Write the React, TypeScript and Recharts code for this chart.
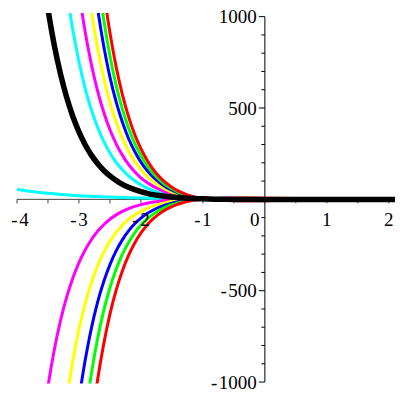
import React from "react";
import { LineChart, Line, XAxis, YAxis, ReferenceLine, ReferenceDot } from "recharts";

// x grid shared by every curve
const xs = [
  -4, -3.9, -3.8, -3.7, -3.6, -3.5, -3.4, -3.3, -3.2, -3.1, -3, -2.9, -2.8, -2.7, -2.6, -2.5,
  -2.4, -2.3, -2.2, -2.1, -2, -1.9, -1.8, -1.7, -1.6, -1.5, -1.4, -1.3, -1.2, -1.1, -1,
  -0.8, -0.6, -0.4, -0.2, 0, 0.5, 1, 1.5, 2.1,
];

const n = (k: number) => Array(k).fill(null);

// upper family (the view clips them at the top)
const blackUp = [...n(3), 1566, 1277, 1040, 846, 689, 560, 455, 369, 299, 242, 196, 158, 128, 103, 82, 66, 53, 42, 33, 26, 20.6, 16, 12.4, 9.5, 7.2, 5.3, 3.9, 2.7, 1.1, 0.2, -0.3, -0.6, -0.7, -0.7, -0.5, -0.3, -0.2];
const cyanUp = [...n(7), 1416, 1148, 930, 753, 608, 490, 395, 317, 254, 203, 162, 129, 102, 80, 62, 48, 37, 28, 21, 15.4, 11, 7.5, 4.8, 2.7, -0.1, -1.6, -2.4, -2.6, -2.6, -2.1, -1.5, -0.95, -0.55];
const magentaUp = [...n(9), 1406, 1136, 917, 739, 594, 477, 381, 304, 242, 191, 151, 118, 92, 71, 54, 40, 30, 21, 15, 9.7, 5.8, 2.7, -0.8, -2, -2.6, -2.8, -2.7, -2.1, -1.4, -1, -0.5];
const yellowUp = [...n(11), 1282, 1032, 829, 665, 531, 423, 336, 265, 208, 163, 126, 97, 73, 55, 40, 28.5, 19.4, 12.3, 6.9, 2.7, -1.6, -3.3, -4, -4.2, -4, -3.1, -2.1, -1.4, -0.8];
const blueUp = [...n(11), 1619, 1303, 1047, 838, 669, 533, 423, 333, 262, 204, 158, 121, 92, 68, 50, 35, 23.6, 14.7, 7.9, 2.7, -2.4, -4.5, -5.3, -5.5, -5.3, -4, -2.8, -1.8, -1];
const greenUp = [...n(12), 1529, 1228, 983, 785, 624, 495, 390, 306, 239, 185, 141, 107, 79, 58, 40, 27, 16.7, 8.8, 2.7, -3.1, -5.5, -6.5, -6.6, -6.3, -4.8, -3.2, -2.1, -1.2];
const redUp = [...n(12), 1777, 1427, 1142, 912, 725, 575, 453, 355, 277, 214, 163, 123, 91, 66, 46, 31, 18.9, 9.7, 2.7, -3.8, -6.5, -7.7, -7.8, -7.4, -5.6, -3.8, -2.5, -1.4];

// lower family
const magentaLo = [...n(4), -1265, -1024, -827, -667, -537, -432, -346, -277, -221, -175, -139, -109, -85, -66, -51, -38.5, -28.8, -21.2, -15.1, -10.4, -6.7, -3.8, -1.6, 0, 1.2, 2.1, 2.7, 3.4, 3.5, 3.4, 3.1, 2.8, 1.95, 1.3, 0.8, 0.46];
const yellowLo = [...n(7), -1362, -1099, -886, -712, -572, -458, -365, -290, -230, -181, -142, -110, -85, -65, -49, -36, -26, -18.3, -12.1, -7.3, -3.7, -0.9, 1.2, 2.7, 2.7, 3.2, 3.2, 3.1, 2.8, 2, 1.3, 0.8, 0.5];
const blueLo = [...n(9), -1362, -1096, -881, -706, -564, -450, -357, -282, -222, -173, -134, -103, -78, -58.5, -42.8, -30.5, -20.8, -13.3, -7.5, -3.1, 0.25, 2.7, 3.4, 4.3, 4.4, 4.3, 3.9, 2.8, 1.9, 1.2, 0.7];
const greenLo = [...n(11), -1190, -954, -763, -609, -484, -383, -301, -236, -183, -141, -107, -81, -59, -43, -29.5, -19.2, -11.3, -5.3, -0.7, 2.7, 4.1, 5.3, 5.6, 5.5, 5, 3.7, 2.5, 1.6, 0.9];
const redLo = [...n(12), -1236, -990, -790, -628, -497, -392, -307, -239, -184, -140, -106, -78, -56.5, -39.4, -26, -15.7, -7.8, -1.8, 2.7, 5, 6.5, 7, 6.8, 6.3, 4.6, 3.1, 2, 1.1];

// the nearly flat cyan one
const cyanFlat = [54.6, 49.4, 44.7, 40.5, 36.6, 33.1, 30, 27.1, 24.5, 22.2, 20.1, 18.2, 16.4, 14.9, 13.5, 12.2, 11, 10, 9, 8.2, 7.4, 6.7, 6, 5.5, 5, 4.5, 4.1, 3.7, 3.3, 3, 2.7, 2.2, 1.8, 1.5, 1.2, 1, 0.6, 0.37, 0.22, 0.12];

const xMajor = [-4, -3, -2, -1, 0, 1, 2];
const xMinor = [-3.5, -2.5, -1.5, -0.5, 0.5, 1.5];
const yMajor = [-1000, -500, 500, 1000];
const yMinor = [-900, -800, -700, -600, -400, -300, -200, -100, 100, 200, 300, 400, 600, 700, 800, 900];

const series: [string, number[], string, number][] = [
  ["cyanFlat", cyanFlat, "#00ffff", 3],
  ["magentaLo", magentaLo, "#ff00ff", 3],
  ["yellowLo", yellowLo, "#ffff00", 3],
  ["blueLo", blueLo, "#0000ff", 3],
  ["greenLo", greenLo, "#00ff00", 3],
  ["redLo", redLo, "#ff0000", 3],
  ["cyanUp", cyanUp, "#00ffff", 3],
  ["magentaUp", magentaUp, "#ff00ff", 3],
  ["yellowUp", yellowUp, "#ffff00", 3],
  ["blueUp", blueUp, "#0000ff", 3],
  ["greenUp", greenUp, "#00ff00", 3],
  ["redUp", redUp, "#ff0000", 3],
  ["blackUp", blackUp, "#000000", 5.5],
];

const rows = xs.map((x, i) => {
  const r: any = { x };
  series.forEach(([key, arr]) => (r[key] = arr[i]));
  return r;
});

const FONT = "'Liberation Serif', 'Times New Roman', serif";

const fmt = (v: number) => (v < 0 ? "-\u200A" + Math.abs(v) : String(v));

const TickText = (props: any) => {
  const { viewBox, text, dx = 0, dy = 0, anchor = "middle" } = props;
  if (!viewBox) return null;
  return (
    <text
      x={viewBox.x + dx}
      y={viewBox.y + dy}
      textAnchor={anchor}
      fill="#000"
      style={{ fontFamily: FONT, fontSize: 19 }}
    >
      {text}
    </text>
  );
};

const App = () => {
  return (
    <div>
      <style>{"body{margin:0;background:#fff}"}</style>
      <LineChart width={400} height={400} data={rows} margin={{ top: 13, right: 5, bottom: 16.5, left: 17 }}>
        <XAxis dataKey="x" type="number" domain={[-4, 2.1]} allowDataOverflow hide />
        <YAxis type="number" domain={[-1008, 1020]} allowDataOverflow hide />

        {/* axes through the origin */}
        <ReferenceLine y={0} stroke="#444" strokeWidth={1} />
        <ReferenceLine segment={[{ x: 0, y: -1000 }, { x: 0, y: 1000 }]} stroke="#000" strokeWidth={1} />
        {[...xMajor, ...xMinor].map((t) => (
          <ReferenceLine key={"xt" + t} segment={[{ x: t, y: 0 }, { x: t, y: -22 }]} stroke="#444" strokeWidth={1} />
        ))}
        {yMajor.map((t) => (
          <ReferenceLine key={"yt" + t} segment={[{ x: -0.097, y: t }, { x: 0, y: t }]} stroke="#000" strokeWidth={1} />
        ))}
        {yMinor.map((t) => (
          <ReferenceLine key={"ym" + t} segment={[{ x: -0.056, y: t }, { x: 0, y: t }]} stroke="#000" strokeWidth={1} />
        ))}

        {series.map(([key, , color, w]) => (
          <Line
            key={key}
            dataKey={key}
            type="monotone"
            stroke={color}
            strokeWidth={w}
            dot={false}
            activeDot={false}
            isAnimationActive={false}
          />
        ))}

        {xMajor.map((t) => (
          <ReferenceDot
            key={"xl" + t}
            x={t}
            y={0}
            r={0}
            fill="none"
            stroke="none"
            label={<TickText text={fmt(t)} dy={27} dx={t === 0 ? -10 : t === -4 ? 3 : 0} />}
          />
        ))}
        {yMajor.map((t) => (
          <ReferenceDot
            key={"yl" + t}
            x={0}
            y={t}
            r={0}
            fill="none"
            stroke="none"
            label={<TickText text={fmt(t)} dx={-8} dy={6.5} anchor="end" />}
          />
        ))}
      </LineChart>
    </div>
  );
};

export default App;
